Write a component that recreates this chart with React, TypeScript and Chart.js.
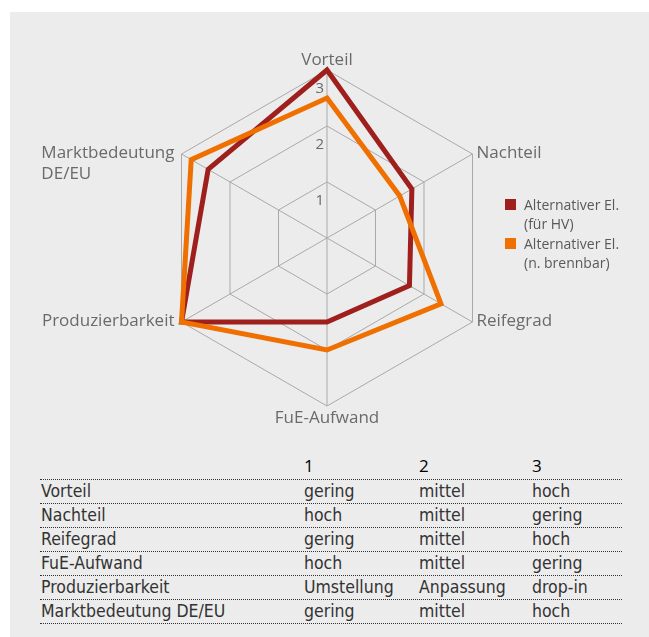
import React, { useEffect, useRef } from "react";
import { Chart, registerables } from "chart.js";

Chart.register(...registerables);

const categories: (string | string[])[] = [
  "Vorteil",
  "Nachteil",
  "Reifegrad",
  "FuE-Aufwand",
  "Produzierbarkeit",
  ["Marktbedeutung", "DE/EU"],
];
const seriesHV = [3, 1.75, 1.7, 1.5, 3, 2.45];
const seriesNB = [2.5, 1.5, 2.35, 2.0, 3, 2.8];
const seriesNames = [
  ["Alternativer El.", "(für HV)"],
  ["Alternativer El.", "(n. brennbar)"],
];
const tickValues = [1, 2, 3];
const tickLabels = ["1", "2", "3"];

const tableHeader = ["1", "2", "3"];
const tableRows = ["Vorteil", "Nachteil", "Reifegrad", "FuE-Aufwand", "Produzierbarkeit", "Marktbedeutung DE/EU"];
const tableCol1 = ["gering", "hoch", "gering", "hoch", "Umstellung", "gering"];
const tableCol2 = ["mittel", "mittel", "mittel", "mittel", "Anpassung", "mittel"];
const tableCol3 = ["hoch", "gering", "hoch", "gering", "drop-in", "hoch"];

const RED = "#9f1f1d";
const ORANGE = "#ef6f00";
const GRID = "#a9a9a9";
const LABEL = "#6a6a6a";

const labelPlugin = {
  id: "customRadarLabels",
  beforeDatasetsDraw(chart: any) {
    const scale = chart.scales.r;
    const ctx = chart.ctx;
    ctx.save();
    ctx.font = '15px "Open Sans"';
    ctx.fillStyle = LABEL;
    ctx.textAlign = "right";
    ctx.textBaseline = "alphabetic";
    tickValues.forEach((v, i) => {
      const d = scale.getDistanceFromCenterForValue(v);
      ctx.fillText(tickLabels[i], scale.xCenter - 3, scale.yCenter - d + 22.5);
    });
    ctx.restore();
  },
  afterDraw(chart: any) {
    const scale = chart.scales.r;
    const ctx = chart.ctx;
    ctx.save();
    ctx.font = '17px "Open Sans"';
    ctx.fillStyle = LABEL;
    ctx.textBaseline = "alphabetic";
    categories.forEach((lab, i) => {
      const p = scale.getPointPosition(i, scale.drawingArea);
      const lines = Array.isArray(lab) ? lab : [lab];
      const dx = p.x - scale.xCenter;
      const dy = p.y - scale.yCenter;
      if (Math.abs(dx) < 1) {
        ctx.textAlign = "center";
        if (dy < 0) ctx.fillText(lines[0], p.x, p.y - 5);
        else ctx.fillText(lines[0], p.x, p.y + 17);
      } else if (dx > 0) {
        ctx.textAlign = "left";
        lines.forEach((l, k) => ctx.fillText(l, p.x + 4, p.y + 4 + k * 21));
      } else {
        ctx.textAlign = "left";
        const w = ctx.measureText(lines[0]).width;
        const x0 = p.x - 7 - w;
        lines.forEach((l, k) => ctx.fillText(l, x0, p.y + 4 + k * 21));
      }
    });
    ctx.restore();
  },
};

function RadarChart() {
  const ref = useRef<HTMLCanvasElement | null>(null);
  useEffect(() => {
    if (!ref.current) return;
    const chart = new Chart(ref.current, {
      type: "radar",
      data: {
        labels: categories as any,
        datasets: [
          {
            label: seriesNames[0].join(" "),
            data: seriesHV,
            borderColor: RED,
            backgroundColor: RED,
            borderWidth: 5,
            fill: false,
            pointRadius: 0,
            borderJoinStyle: "miter",
            order: 1,
          },
          {
            label: seriesNames[1].join(" "),
            data: seriesNB,
            borderColor: ORANGE,
            backgroundColor: ORANGE,
            borderWidth: 5,
            fill: false,
            pointRadius: 0,
            borderJoinStyle: "miter",
            order: 0,
          },
        ],
      },
      options: {
        responsive: false,
        animation: false,
        layout: { padding: { left: 149, top: 58, right: 154, bottom: 46 } },
        plugins: { legend: { display: false }, tooltip: { enabled: false } },
        elements: { line: { tension: 0 } },
        scales: {
          r: {
            min: 0,
            max: 3,
            ticks: { stepSize: 1, display: false },
            grid: { color: GRID, lineWidth: 1 },
            angleLines: { color: GRID, lineWidth: 1 },
            pointLabels: { display: false },
          },
        },
      },
      plugins: [labelPlugin],
    });
    return () => chart.destroy();
  }, []);
  return (
    <canvas
      ref={ref}
      width={639}
      height={440}
      style={{ position: "absolute", left: 10, top: 12, width: 639, height: 440 }}
    />
  );
}

const tableFont = '"DejaVu Sans Condensed", "DejaVu Sans", sans-serif';
const LINE0 = 479;
const ROWH = 24;
const COLX = [41, 304, 419, 532];

export default function App() {
  const legendColors = [RED, ORANGE];
  const legendTops = [196, 235];
  return (
    <div style={{ position: "absolute", left: 0, top: 0, width: 649, height: 637, overflow: "hidden" }}>
      <div style={{ position: "absolute", left: 10, top: 12, width: 639, height: 625, background: "#ececec" }} />
      <RadarChart />
      {seriesNames.map((lines, i) => (
        <React.Fragment key={i}>
          <div
            style={{
              position: "absolute",
              left: 505,
              top: legendTops[i] + 3,
              width: 11,
              height: 11,
              background: legendColors[i],
            }}
          />
          <div
            style={{
              position: "absolute",
              left: 524,
              top: legendTops[i],
              font: '14px "Open Sans"',
              lineHeight: "18.5px",
              color: "#595959",
              whiteSpace: "nowrap",
            }}
          >
            {lines.map((l, k) => (
              <div key={k}>{l}</div>
            ))}
          </div>
        </React.Fragment>
      ))}
      {tableHeader.map((h, j) => (
        <div
          key={"h" + j}
          style={{
            position: "absolute",
            left: COLX[j + 1],
            top: LINE0 - 25,
            height: 24,
            lineHeight: "24px",
            font: '500 17px "Open Sans"',
            color: "#000",
          }}
        >
          {h}
        </div>
      ))}
      {Array.from({ length: tableRows.length + 1 }).map((_, k) => (
        <div
          key={"l" + k}
          style={{
            position: "absolute",
            left: 40,
            top: LINE0 + k * ROWH,
            width: 582,
            height: 0,
            borderTop: "1px dotted #333",
          }}
        />
      ))}
      {tableRows.map((r, i) => {
        const cells = [r, tableCol1[i], tableCol2[i], tableCol3[i]];
        return cells.map((c, j) => (
          <div
            key={"c" + i + "_" + j}
            style={{
              position: "absolute",
              left: COLX[j],
              top: LINE0 + i * ROWH + 1,
              height: 23,
              lineHeight: "23px",
              fontFamily: tableFont,
              fontStretch: "condensed",
              fontSize: 17.5,
              color: "#333",
              whiteSpace: "nowrap",
            }}
          >
            {c}
          </div>
        ));
      })}
    </div>
  );
}
